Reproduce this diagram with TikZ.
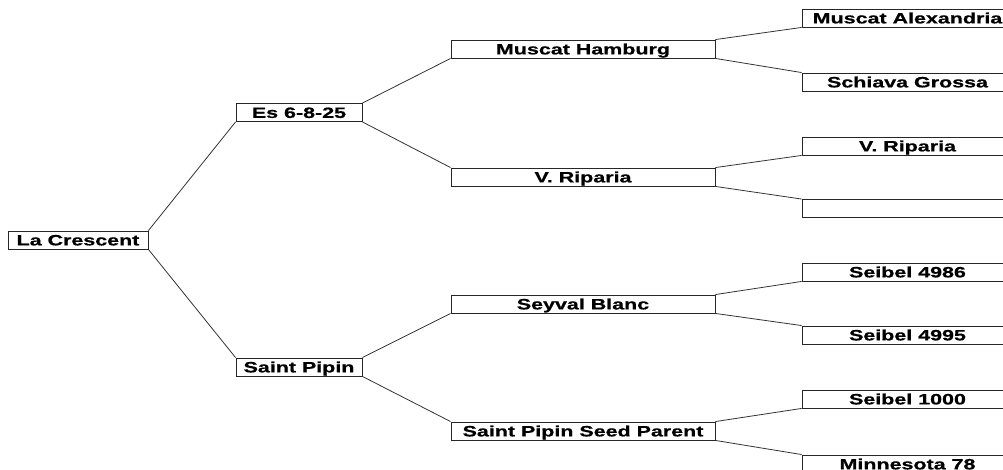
\documentclass[tikz,border=0pt]{standalone}
\usepackage{fontspec}
\setmainfont[BoldFeatures={FakeBold=0.6}]{Liberation Sans}
\newcommand\stretchtxt[1]{\scalebox{1.43}[1]{#1}}
\begin{document}
\begin{tikzpicture}[x=1pt,y=-1pt,
  box/.style={draw=black!85, line width=0.9pt, rectangle, inner sep=0pt,
    minimum height=18pt, text height=10.8pt, text depth=0pt,
    font=\fontsize{15}{15}\selectfont\bfseries},
  lv0/.style={box, minimum width=140pt},
  lv1/.style={box, minimum width=126pt},
  lv2/.style={box, minimum width=264pt},
  lv3/.style={box, minimum width=211pt},
  edge/.style={draw=black!80, line width=0.8pt}
]
\useasboundingbox (0,0) rectangle (1003,470);
\node[lv0] (r) at (78,240) {\stretchtxt{La Crescent}};
\node[lv1] (a) at (299,112.5) {\stretchtxt{Es 6-8-25}};
\node[lv1] (b) at (299,367) {\stretchtxt{Saint Pipin}};
\node[lv2] (aa) at (583,49) {\stretchtxt{Muscat Hamburg}};
\node[lv2] (ab) at (583,177) {\stretchtxt{V. Riparia}};
\node[lv2] (ba) at (583,304) {\stretchtxt{Seyval Blanc}};
\node[lv2] (bb) at (583,431) {\stretchtxt{Saint Pipin Seed Parent}};
\node[lv3] (aaa) at (907.5,18) {\stretchtxt{Muscat Alexandria}};
\node[lv3] (aab) at (907.5,82) {\stretchtxt{Schiava Grossa}};
\node[lv3] (aba) at (907.5,146) {\stretchtxt{V. Riparia}};
\node[lv3] (abb) at (907.5,208.5) {};
\node[lv3] (baa) at (907.5,272) {\stretchtxt{Seibel 4986}};
\node[lv3] (bab) at (907.5,335) {\stretchtxt{Seibel 4995}};
\node[lv3] (bba) at (907.5,399) {\stretchtxt{Seibel 1000}};
\node[lv3] (bbb) at (907.5,464) {\stretchtxt{Minnesota 78}};
\foreach \p/\u/\l in {r/a/b, a/aa/ab, b/ba/bb, aa/aaa/aab, ab/aba/abb, ba/baa/bab, bb/bba/bbb}{
  \draw[edge] (\p.north east) -- (\u.south west);
  \draw[edge] (\p.south east) -- (\l.north west);
}
\end{tikzpicture}
\end{document}
